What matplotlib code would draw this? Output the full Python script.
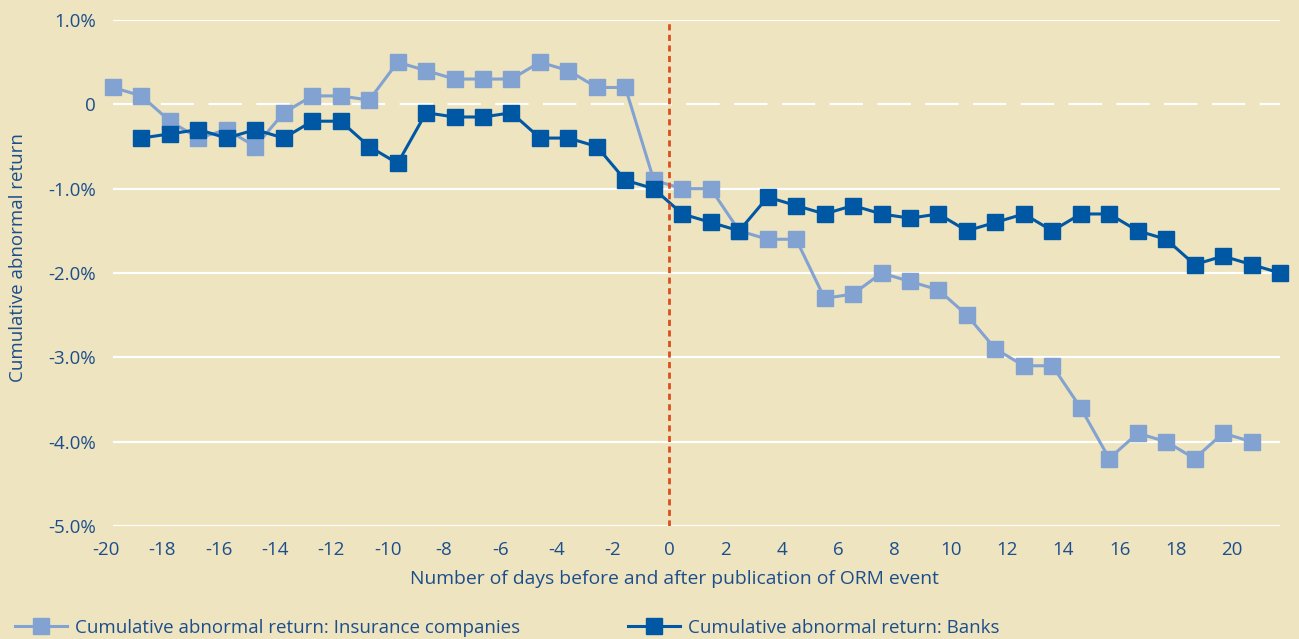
import numpy as np
import matplotlib
matplotlib.use('Agg')
import matplotlib.pyplot as plt

# Cumulative abnormal return (%) per event day
insurance = [0.2, 0.1, -0.2, -0.4, -0.3, -0.5, -0.1, 0.1, 0.1, 0.05,
             0.5, 0.4, 0.3, 0.3, 0.3, 0.5, 0.4, 0.2, 0.2, -0.9,
             -1.0, -1.0, -1.5, -1.6, -1.6, -2.3, -2.25, -2.0, -2.1, -2.2,
             -2.5, -2.9, -3.1, -3.1, -3.6, -4.2, -3.9, -4.0, -4.2, -3.9,
             -4.0, np.nan]
banks = [np.nan, -0.4, -0.35, -0.3, -0.4, -0.3, -0.4, -0.2, -0.2, -0.5,
         -0.7, -0.1, -0.15, -0.15, -0.1, -0.4, -0.4, -0.5, -0.9, -1.0,
         -1.3, -1.4, -1.5, -1.1, -1.2, -1.3, -1.2, -1.3, -1.35, -1.3,
         -1.5, -1.4, -1.3, -1.5, -1.3, -1.3, -1.5, -1.6, -1.9, -1.8,
         -1.9, -2.0]
day_ticks = list(range(-20, 21, 2))
y_ticks = [1, 0, -1, -2, -3, -4, -5]
y_labels = ['1.0%', '0', '-1.0%', '-2.0%', '-3.0%', '-4.0%', '-5.0%']

BG = '#EEE4BF'
TXT = '#1D4E8C'
C_INS = '#82A2D2'
C_BANK = '#0057A4'
RED = '#D94F1F'
FS = 13.5

plt.rcParams['font.family'] = ['Open Sans', 'DejaVu Sans']

W, H = 1299, 639
fig = plt.figure(figsize=(W / 100, H / 100), dpi=100, facecolor=BG)

# pixel layout of the plot area (category axis, points on tick marks)
px_first, px_step = 113, 28.46
left_pad = 0.35
ax_left = px_first - left_pad * px_step
ax_right = 1280
ax_top, ax_bottom = 20, 526
ax = fig.add_axes([ax_left / W, (H - ax_bottom) / H,
                   (ax_right - ax_left) / W, (ax_bottom - ax_top) / H])
ax.set_facecolor(BG)

idx = np.arange(len(insurance))
n_last = len(idx) - 1
ax.set_xlim(-left_pad, n_last)
ax.set_ylim(-5, 1)

# gridlines (zero line dashed)
for yv in y_ticks:
    if yv == 0:
        ax.hlines(yv, 0, n_last, color='white', lw=1.6, zorder=1,
                  linestyles=[(0, (15, 6.5))])
    else:
        ax.hlines(yv, 0, n_last, color='white', lw=1.6, zorder=1)

ax.plot(idx, insurance, color=C_INS, lw=2.2, marker='s', ms=11,
        mec=C_INS, mfc=C_INS, clip_on=False, zorder=3,
        label='Cumulative abnormal return: Insurance companies')
ax.plot(idx, banks, color=C_BANK, lw=2.2, marker='s', ms=11,
        mec=C_BANK, mfc=C_BANK, clip_on=False, zorder=4,
        label='Cumulative abnormal return: Banks')

# day labels sit on their own scale, slightly offset from the categories
day0_pos = (669 - px_first) / px_step
day_step = 28.15 / px_step
tick_pos = [day0_pos + d * day_step for d in day_ticks]
ax.set_xticks(tick_pos)
ax.set_xticklabels([str(d) for d in day_ticks])
ax.axvline(day0_pos, color=RED, lw=2, ls=(0, (2.2, 1.6)), zorder=5)

ax.set_yticks(y_ticks)
ax.set_yticklabels(y_labels)
ax.tick_params(axis='both', length=0, colors=TXT, labelsize=FS)
ax.tick_params(axis='x', pad=11)
ax.tick_params(axis='y', pad=5)
for s in ax.spines.values():
    s.set_visible(False)

ax.set_xlabel('Number of days before and after publication of ORM event',
              color=TXT, fontsize=FS + 0.4)
ax.xaxis.set_label_coords((675 - ax_left) / (ax_right - ax_left),
                          -(570 - ax_bottom) / (ax_bottom - ax_top))
ax.set_ylabel('Cumulative abnormal return', color=TXT, fontsize=FS)
ax.yaxis.set_label_coords((27 - ax_left) / (ax_right - ax_left),
                          (ax_bottom - 258) / (ax_bottom - ax_top))

h, l = ax.get_legend_handles_labels()
fig.legend(h, l, loc='center left', bbox_to_anchor=(15 / W, (H - 628) / H),
           ncol=2, frameon=False, fontsize=FS, labelcolor=TXT,
           handlelength=2.75, handletextpad=0.45, columnspacing=5.75,
           borderpad=0, borderaxespad=0, markerscale=1.0)

fig.savefig('out.png', dpi=100, facecolor=BG)
